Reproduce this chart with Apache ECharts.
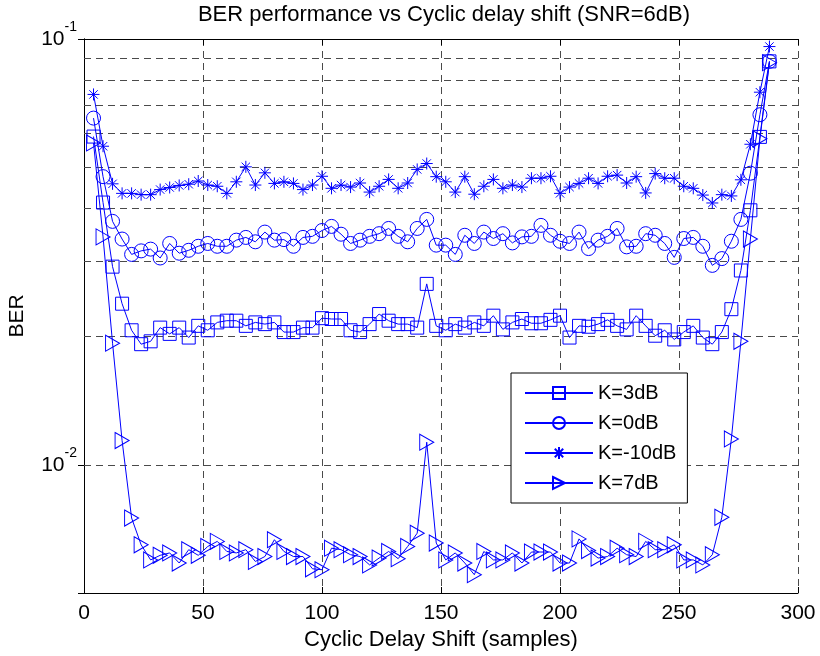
<!DOCTYPE html>
<html>
<head>
<meta charset="utf-8">
<script src="https://cdn.jsdelivr.net/npm/echarts@6/dist/echarts.min.js"></script>
<style>
  html, body { margin: 0; padding: 0; background: #fff; }
  #main { width: 820px; height: 656px; }
</style>
</head>
<body>
<div id="main"></div>
<script>
// data
const shift = [4, 8, 12, 16, 20, 24, 28, 32, 36, 40, 44, 48, 52, 56, 60, 64, 68, 72, 76, 80, 84, 88, 92, 96, 100,
  104, 108, 112, 116, 120, 124, 128, 132, 136, 140, 144, 148, 152, 156, 160, 164, 168, 172, 176, 180, 184, 188, 192, 196, 200,
  204, 208, 212, 216, 220, 224, 228, 232, 236, 240, 244, 248, 252, 256, 260, 264, 268, 272, 276, 280, 284, 288];

const berK3 = [0.0590, 0.0413, 0.0292, 0.0239, 0.0207, 0.0192, 0.0195, 0.0210, 0.0203, 0.0210, 0.0199, 0.0212, 0.0207, 0.0216, 0.0218, 0.0218, 0.0212, 0.0216, 0.0214, 0.0216, 0.0205, 0.0205, 0.0210, 0.0210, 0.0221,
  0.0220, 0.0220, 0.0207, 0.0205, 0.0214, 0.0226, 0.0218, 0.0214, 0.0214, 0.0210, 0.0266, 0.0212, 0.0207, 0.0214, 0.0210, 0.0216, 0.0212, 0.0224, 0.0208, 0.0216, 0.0220, 0.0215, 0.0215, 0.0219, 0.0224,
  0.0199, 0.0212, 0.0211, 0.0214, 0.0219, 0.0212, 0.0208, 0.0224, 0.0212, 0.0201, 0.0207, 0.0197, 0.0205, 0.0212, 0.0199, 0.0192, 0.0205, 0.0232, 0.0286, 0.0396, 0.0589, 0.0886];

const berK0 = [0.0652, 0.0475, 0.0373, 0.0339, 0.0312, 0.0318, 0.0321, 0.0306, 0.0331, 0.0314, 0.0319, 0.0326, 0.0331, 0.0326, 0.0326, 0.0337, 0.0342, 0.0334, 0.0352, 0.0337, 0.0338, 0.0326, 0.0342, 0.0344, 0.0355,
  0.0363, 0.0348, 0.0331, 0.0337, 0.0344, 0.0349, 0.0359, 0.0344, 0.0334, 0.0359, 0.0377, 0.0328, 0.0328, 0.0312, 0.0346, 0.0331, 0.0352, 0.0340, 0.0349, 0.0332, 0.0343, 0.0344, 0.0365, 0.0346, 0.0335,
  0.0331, 0.0352, 0.0322, 0.0337, 0.0344, 0.0359, 0.0325, 0.0326, 0.0349, 0.0346, 0.0331, 0.0307, 0.0340, 0.0342, 0.0326, 0.0294, 0.0305, 0.0335, 0.0377, 0.0484, 0.0664, 0.0886];

const berKm10 = [0.0741, 0.0560, 0.0457, 0.0434, 0.0434, 0.0431, 0.0431, 0.0443, 0.0448, 0.0453, 0.0456, 0.0464, 0.0454, 0.0451, 0.0434, 0.0462, 0.0501, 0.0454, 0.0485, 0.0458, 0.0462, 0.0458, 0.0443, 0.0454, 0.0476,
  0.0446, 0.0454, 0.0449, 0.0459, 0.0437, 0.0451, 0.0468, 0.0446, 0.0459, 0.0494, 0.0510, 0.0475, 0.0462, 0.0437, 0.0475, 0.0432, 0.0451, 0.0468, 0.0446, 0.0454, 0.0449, 0.0471, 0.0471, 0.0476, 0.0434,
  0.0449, 0.0458, 0.0471, 0.0458, 0.0476, 0.0479, 0.0459, 0.0475, 0.0435, 0.0483, 0.0471, 0.0471, 0.0451, 0.0446, 0.0430, 0.0412, 0.0431, 0.0428, 0.0467, 0.0566, 0.0750, 0.0960];

const berK7 = [0.0570, 0.0343, 0.0193, 0.0114, 0.0075, 0.00649, 0.00598, 0.00613, 0.00621, 0.00588, 0.00632, 0.00613, 0.00643, 0.00661, 0.00626, 0.00621, 0.00632, 0.00593, 0.00609, 0.00667, 0.00626, 0.00609, 0.00609, 0.00570, 0.00567,
  0.00637, 0.00632, 0.00615, 0.00609, 0.00582, 0.00604, 0.00626, 0.00602, 0.00643, 0.00691, 0.0113, 0.00655, 0.00598, 0.00621, 0.00588, 0.00552, 0.00626, 0.00598, 0.00598, 0.00621, 0.00588, 0.00624, 0.00624, 0.00624, 0.00588,
  0.00588, 0.0067, 0.00629, 0.00604, 0.00609, 0.00637, 0.00615, 0.00609, 0.00661, 0.00632, 0.00632, 0.00649, 0.00598, 0.00598, 0.00582, 0.00615, 0.00753, 0.0115, 0.0195, 0.0339, 0.0583, 0.0880];

const seriesNames = ['K=3dB', 'K=0dB', 'K=-10dB', 'K=7dB'];
// log grid lines (MATLAB style minor grid)
const yGridValues = [0.006, 0.007, 0.008, 0.009, 0.01, 0.02, 0.03, 0.04, 0.05, 0.06, 0.07, 0.08, 0.09];

const FONT = 'Liberation Sans, Arial, Helvetica, sans-serif';
const BLUE = '#0000ff';
const gridDash = { type: [7, 5], color: '#4a4a4a', width: 1 };

function pairs(ys) {
  return shift.map((x, i) => [x, ys[i]]);
}

function makeSeries(name, ys, symbol, size) {
  return {
    name: name,
    type: 'line',
    data: pairs(ys),
    symbol: symbol,
    symbolSize: size,
    showAllSymbol: true,
    lineStyle: { color: BLUE, width: 1 },
    itemStyle: { color: 'rgba(0,0,0,0)', borderColor: BLUE, borderWidth: 1 },
    emphasis: { disabled: true },
    z: 3
  };
}

const chart = echarts.init(document.getElementById('main'), null, { renderer: 'canvas' });

const series = [
  makeSeries(seriesNames[0], berK3, 'rect', 13),
  makeSeries(seriesNames[1], berK0, 'circle', 14),
  makeSeries(seriesNames[2], berKm10, 'path://M6,0 L6,12 M0,6 L12,6 M1.8,1.8 L10.2,10.2 M10.2,1.8 L1.8,10.2', 12),
  makeSeries(seriesNames[3], berK7, 'path://M0,0 L14,8 L0,16 Z', [14, 16])
];

// horizontal dashed grid at 2..9 x 10^k
series[0].markLine = {
  silent: true,
  symbol: ['none', 'none'],
  label: { show: false },
  lineStyle: gridDash,
  z: 1,
  data: yGridValues.map(v => ({ yAxis: v }))
};

function logLabel(v) {
  const e = Math.round(Math.log10(v));
  if (Math.abs(Math.log10(v) - e) > 1e-6) return '';
  return '{b|10}{s|' + e + '}';
}

const option = {
  animation: false,
  backgroundColor: '#fff',
  title: {
    text: 'BER performance vs Cyclic delay shift (SNR=6dB)',
    left: 444,
    top: 4,
    padding: 0,
    textAlign: 'center',
    textStyle: { fontFamily: FONT, fontSize: 22, fontWeight: 'normal', color: '#000' }
  },
  legend: {
    orient: 'vertical',
    left: 511,
    top: 373,
    padding: [10, 11, 10, 13],
    itemGap: 10,
    itemWidth: 68,
    itemHeight: 15,
    backgroundColor: '#fff',
    borderColor: '#000',
    borderWidth: 1,
    borderRadius: 0,
    selectedMode: false,
    textStyle: { fontFamily: FONT, fontSize: 20, color: '#000' },
    data: seriesNames
  },
  grid: { left: 84, right: 22, top: 39, bottom: 63, containLabel: false, outerBoundsMode: 'none' },
  xAxis: [{
    type: 'value',
    min: 0,
    max: 300,
    interval: 50,
    name: 'Cyclic Delay Shift (samples)',
    nameLocation: 'middle',
    nameGap: 31,
    nameTextStyle: { fontFamily: FONT, fontSize: 22, color: '#000' },
    axisLine: { show: true, onZero: false, lineStyle: { color: '#000', width: 1 } },
    axisTick: { show: true, inside: true, length: 6, lineStyle: { color: '#000' } },
    axisLabel: { fontFamily: FONT, fontSize: 21, color: '#000', margin: 10 },
    splitLine: { show: true, lineStyle: gridDash }
  }, {
    type: 'value',
    position: 'top',
    min: 0,
    max: 300,
    interval: 50,
    axisLine: { show: true, onZero: false, lineStyle: { color: '#000', width: 1 } },
    axisTick: { show: true, inside: true, length: 6, lineStyle: { color: '#000' } },
    axisLabel: { show: false },
    splitLine: { show: false }
  }],
  yAxis: [{
    type: 'log',
    logBase: 10,
    min: 0.005,
    max: 0.1,
    name: 'BER',
    nameLocation: 'middle',
    nameGap: 56,
    nameTextStyle: { fontFamily: FONT, fontSize: 21, color: '#000' },
    axisLine: { show: true, lineStyle: { color: '#000', width: 1 } },
    axisTick: { show: true, inside: true, length: 6, lineStyle: { color: '#000' } },
    axisLabel: {
      margin: 7,
      padding: [0, 0, 12, 0],
      formatter: logLabel,
      rich: {
        b: { fontFamily: FONT, fontSize: 21, color: '#000', lineHeight: 34, verticalAlign: 'bottom' },
        s: { fontFamily: FONT, fontSize: 14, color: '#000', lineHeight: 13, verticalAlign: 'top', padding: [4, 0, 0, 0] }
      }
    },
    splitLine: { show: false }
  }, {
    type: 'log',
    logBase: 10,
    position: 'right',
    min: 0.005,
    max: 0.1,
    axisLine: { show: true, lineStyle: { color: '#000', width: 1 } },
    axisTick: { show: true, inside: true, length: 6, lineStyle: { color: '#000' } },
    axisLabel: { show: false },
    splitLine: { show: false }
  }],
  series: series
};

chart.setOption(option);
</script>
</body>
</html>
